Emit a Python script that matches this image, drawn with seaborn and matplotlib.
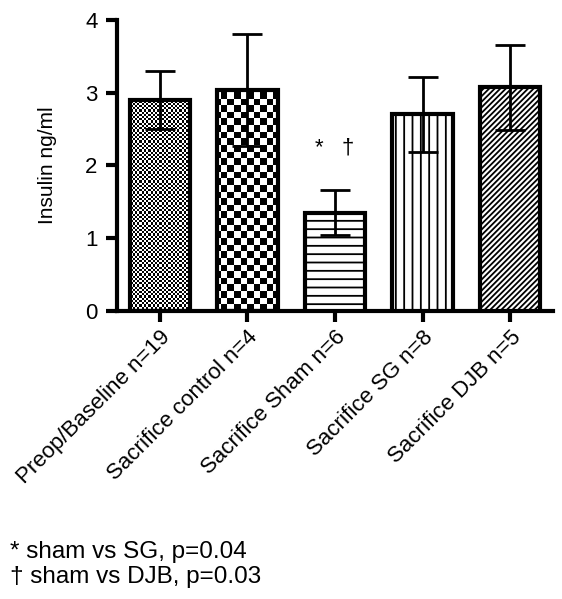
import numpy as np
import pandas as pd
import matplotlib
matplotlib.use("Agg")
import matplotlib.pyplot as plt
import seaborn as sns

groups = ["Preop/Baseline n=19", "Sacrifice control n=4", "Sacrifice Sham n=6",
          "Sacrifice SG n=8", "Sacrifice DJB n=5"]
insulin_mean = [2.90, 3.04, 1.35, 2.70, 3.07]
insulin_err = [0.40, 0.77, 0.31, 0.52, 0.58]
y_ticks = [0, 1, 2, 3, 4]
footnotes = ["* sham vs SG, p=0.04", "\u2020 sham vs DJB, p=0.03"]

sns.set_style("ticks")
plt.rcParams["font.family"] = ["Liberation Sans", "DejaVu Sans"]
plt.rcParams["hatch.linewidth"] = 1.3
plt.rcParams["hatch.color"] = "black"
plt.rcParams["text.color"] = "black"
plt.rcParams["axes.labelcolor"] = "black"

df = pd.DataFrame({"group": groups, "insulin": insulin_mean})

fig = plt.figure(figsize=(5.62, 5.99), dpi=100)
ax = fig.add_axes([0.208, 0.481, 0.776, 0.486])

sns.barplot(data=df, x="group", y="insulin", color="white", edgecolor="black",
            linewidth=3, width=0.69, errorbar=None, ax=ax, zorder=3)

xlim = (-0.49, 4.49)
ylim = (0, 4)
ax.set_xlim(xlim)
ax.set_ylim(ylim)

# checkerboard textures for first two bars, line hatches for the rest
cell_px = {0: 2.2, 1: 6.5}
ax_w_px = 0.776 * 562
ax_h_px = 0.486 * 599
bars = ax.patches
for i, bar in enumerate(bars):
    if i in cell_px:
        nx = int(ax_w_px / cell_px[i])
        ny = int(ax_h_px / cell_px[i])
        board = (np.add.outer(np.arange(ny), np.arange(nx)) % 2).astype(float)
        im = ax.imshow(board, cmap="gray", extent=[xlim[0], xlim[1], ylim[0], ylim[1]],
                       aspect="auto", interpolation="nearest", zorder=2, origin="lower")
        im.set_clip_path(bar)
        bar.set_facecolor("none")
    elif i == 2:
        bar.set_hatch("--")
    elif i == 3:
        bar.set_hatch("||")
    else:
        bar.set_hatch("//////")
ax.set_xlim(xlim)
ax.set_ylim(ylim)

ax.errorbar(range(len(groups)), insulin_mean, yerr=insulin_err, fmt="none",
            ecolor="black", elinewidth=2, capsize=11, capthick=2, zorder=4)

ax.text(2, 2.1, "*   \u2020", ha="center", va="bottom", fontsize=16)

ax.set_yticks(y_ticks)
ax.set_xlabel("")
ax.set_ylabel("Insulin ng/ml", fontsize=15, labelpad=20)
ax.tick_params(axis="both", width=3, length=8, labelsize=16, color="black",
               labelcolor="black")
ax.tick_params(axis="y", pad=6)
plt.setp(ax.get_xticklabels(), rotation=45, ha="right", rotation_mode="anchor")
for side in ["left", "bottom"]:
    ax.spines[side].set_linewidth(3)
    ax.spines[side].set_color("black")
sns.despine(ax=ax)

fig.text(0.018, 1 - 558 / 599, footnotes[0], fontsize=17.5, va="baseline")
fig.text(0.018, 1 - 583 / 599, footnotes[1], fontsize=17.5, va="baseline")

fig.savefig("out.png", dpi=100)
